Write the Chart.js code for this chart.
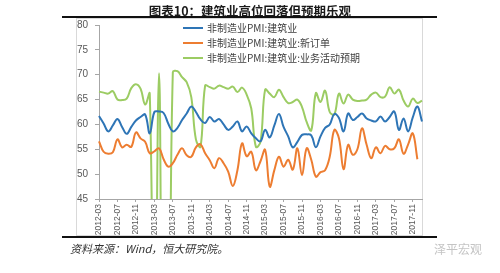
<!DOCTYPE html>
<html><head><meta charset="utf-8">
<script src="https://cdn.jsdelivr.net/npm/chart.js@4/dist/chart.umd.min.js"></script>
<style>
html,body{margin:0;padding:0;background:#fff;}
#wrap{position:relative;width:500px;height:273px;overflow:hidden;background:#fff;}
#box{position:absolute;left:76px;top:18px;width:347px;height:218px;border:1px solid #d9d9d9;box-sizing:border-box;}
#c{position:absolute;left:0;top:0;}
#title{position:absolute;left:0;width:500px;top:2px;text-align:center;font:bold 12.5px "Noto Sans CJK SC",sans-serif;color:#1a1a1a;line-height:17px;}
#rule1{position:absolute;left:62px;top:16px;width:375px;height:2px;background:#111;}
#rule2{position:absolute;left:62px;top:236px;width:375px;height:2px;background:#111;}
#src{position:absolute;left:70px;top:240px;font:italic 11px "Noto Sans CJK SC",sans-serif;color:#333;line-height:16px;}
#wm{position:absolute;left:434px;top:241px;font:12px "Noto Sans CJK SC",sans-serif;color:#c4c4c4;line-height:16px;}
</style></head>
<body><div id="wrap">
<div id="box"></div>
<canvas id="c" width="500" height="273"></canvas>
<div id="title">图表10：建筑业高位回落但预期乐观</div>
<div id="rule1"></div>
<div id="rule2"></div>
<div id="src">资料来源：Wind，恒大研究院。</div>
<div id="wm">泽平宏观</div>
</div>
<script>
const categories = [
"2012-03","2012-04","2012-05","2012-06","2012-07","2012-08","2012-09","2012-10","2012-11","2012-12",
"2013-01","2013-02","2013-03","2013-04","2013-05","2013-06","2013-07","2013-08","2013-09","2013-10","2013-11","2013-12",
"2014-01","2014-02","2014-03","2014-04","2014-05","2014-06","2014-07","2014-08","2014-09","2014-10","2014-11","2014-12",
"2015-01","2015-02","2015-03","2015-04","2015-05","2015-06","2015-07","2015-08","2015-09","2015-10","2015-11","2015-12",
"2016-01","2016-02","2016-03","2016-04","2016-05","2016-06","2016-07","2016-08","2016-09","2016-10","2016-11","2016-12",
"2017-01","2017-02","2017-03","2017-04","2017-05","2017-06","2017-07","2017-08","2017-09","2017-10","2017-11","2017-12",
"2018-01"];

const seriesNames = ["非制造业PMI:建筑业","非制造业PMI:建筑业:新订单","非制造业PMI:建筑业:业务活动预期"];

const construction = [
61.7,60.2,58.6,59.8,61.1,59.5,58.1,59.5,60.8,61.5,
62.0,58.2,62.5,62.6,62.3,60.2,58.6,59.3,60.9,62.2,63.6,62.5,
61.0,60.3,61.5,60.6,61.1,60.0,58.9,59.6,60.6,58.6,59.6,58.2,
57.2,56.6,58.9,57.4,59.8,62.1,59.5,57.6,55.4,56.5,57.9,58.0,
57.8,55.4,57.6,59.3,60.0,62.1,61.3,58.6,62.2,60.9,61.5,62.2,
61.2,60.8,60.6,61.6,60.6,61.5,62.6,58.9,61.2,58.6,61.4,63.6,
60.6];

const newOrders = [
56.6,54.5,54.1,54.4,57.0,55.4,55.9,55.5,58.4,57.2,
56.5,54.2,54.6,55.2,53.0,51.5,52.2,53.9,55.2,53.8,53.5,55.4,
56.0,54.2,52.8,51.2,53.2,52.2,50.5,47.6,50.8,56.2,53.6,54.5,
50.8,52.6,54.9,47.5,50.8,53.5,51.5,52.9,50.9,55.2,49.8,55.2,
52.9,49.5,50.4,50.8,53.5,58.9,57.2,51.0,55.9,53.9,55.0,59.2,
55.9,53.2,55.4,54.2,55.7,55.0,55.2,57.0,54.1,56.0,58.2,
53.0];

const expectations = [
66.6,66.4,66.2,66.7,65.0,64.9,65.2,67.3,68.1,67.2,
64.0,66.2,0,70.3,0,0,70.5,70.7,69.5,68.5,65.5,57.0,
55.5,67.8,67.5,67.2,67.8,67.5,67.2,67.6,66.5,67.4,66.0,63.2,
55.5,56.5,67.0,66.2,65.5,67.0,65.5,64.3,64.5,65.0,63.5,60.5,
58.8,66.3,64.5,66.8,62.5,62.0,66.2,64.2,66.0,65.0,64.7,64.8,
65.0,66.0,66.4,65.5,65.6,67.5,66.2,67.0,64.8,63.6,65.2,64.3,
64.8];

const yTicks = [45,50,55,60,65,70,75,80];
const colors = ["#2e75b6","#ed7d31","#9ccc63"];

const legendPlugin = {
  id: 'stackLegend',
  afterDraw(chart) {
    const ctx = chart.ctx;
    ctx.save();
    ctx.font = '10px "Noto Sans CJK SC", sans-serif';
    ctx.textBaseline = 'middle';
    ctx.textAlign = 'left';
    chart.data.datasets.forEach((ds, i) => {
      const y = 28 + i * 15;
      ctx.strokeStyle = ds.borderColor;
      ctx.lineWidth = 2;
      ctx.beginPath();
      ctx.moveTo(183, y);
      ctx.lineTo(203, y);
      ctx.stroke();
      ctx.fillStyle = '#404040';
      ctx.fillText(ds.label, 207, y);
    });
    ctx.restore();
  }
};

new Chart(document.getElementById('c'), {
  type: 'line',
  data: {
    labels: categories,
    datasets: [
      {label: seriesNames[0], data: construction, borderColor: colors[0], backgroundColor: colors[0]},
      {label: seriesNames[1], data: newOrders, borderColor: colors[1], backgroundColor: colors[1]},
      {label: seriesNames[2], data: expectations, borderColor: colors[2], backgroundColor: colors[2]}
    ]
  },
  options: {
    responsive: false,
    animation: false,
    devicePixelRatio: 1,
    layout: {padding: {top: 25, right: 78, left: 0, bottom: 0}},
    elements: {
      point: {radius: 0},
      line: {borderWidth: 2, tension: 0.4, fill: false}
    },
    plugins: {legend: {display: false}, title: {display: false}, tooltip: {enabled: false}},
    scales: {
      x: {
        offset: false,
        afterFit(s) { s.height = 74; },
        afterBuildTicks(s) { s.ticks = s.ticks.filter((t, i) => i % 4 === 0); },
        grid: {drawOnChartArea: false, drawTicks: true, tickLength: 3, color: '#a6a6a6'},
        border: {display: true, color: '#a6a6a6', width: 1},
        ticks: {
          autoSkip: false, maxRotation: 90, minRotation: 90, padding: 2,
          color: '#595959', font: {family: '"Liberation Sans", Arial, sans-serif', size: 8.5},
          callback(v) { return categories[v]; }
        }
      },
      y: {
        min: 45, max: 80,
        afterFit(s) { s.width = 99; },
        afterBuildTicks(s) { s.ticks = yTicks.map(v => ({value: v})); },
        grid: {drawOnChartArea: false, drawTicks: true, tickLength: 4, color: '#a6a6a6'},
        border: {display: true, color: '#a6a6a6', width: 1},
        ticks: {padding: 7, color: '#595959', font: {family: '"Liberation Sans", Arial, sans-serif', size: 10}}
      }
    }
  },
  plugins: [legendPlugin]
});
</script>
</body></html>
